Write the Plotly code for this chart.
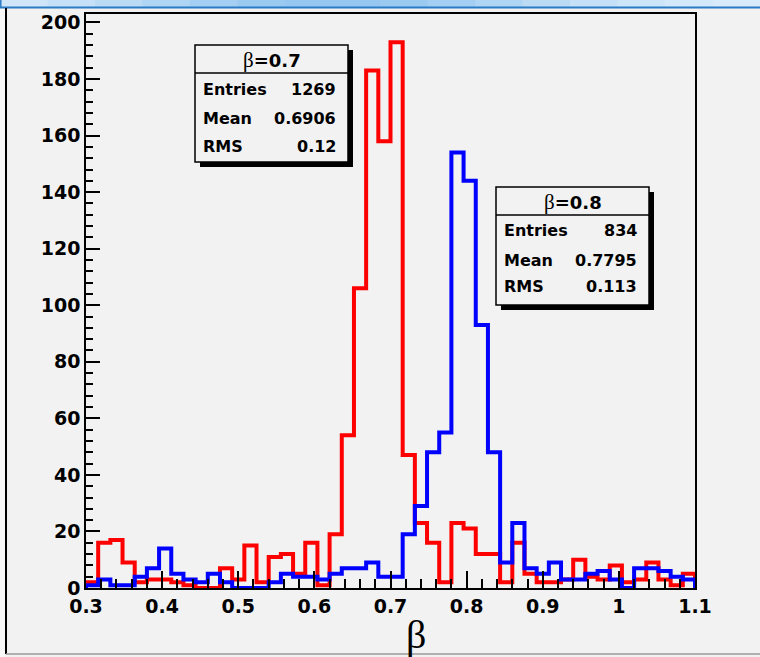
import plotly.graph_objects as go

# Histogram binning: 50 equal bins over [0.3, 1.1]
X_MIN, X_MAX, N_BINS = 0.3, 1.1, 50
Y_MAX = 203

# Bin contents for the beta = 0.7 sample
counts_b07 = [2, 16, 17, 9, 2, 3, 3, 2, 1, 0,
              0, 7, 3, 15, 2, 11, 12, 5, 16, 1,
              19, 54, 106, 183, 158, 193, 47, 23, 16, 2,
              23, 21, 12, 12, 2, 16, 5, 2, 2, 3,
              10, 4, 3, 8, 2, 3, 9, 3, 1, 5]

# Bin contents for the beta = 0.8 sample
counts_b08 = [1, 3, 1, 1, 4, 7, 14, 5, 3, 2,
              5, 2, 0, 0, 0, 2, 5, 4, 4, 3,
              5, 7, 7, 9, 4, 4, 19, 29, 48, 55,
              154, 144, 93, 48, 9, 23, 7, 5, 9, 3,
              3, 5, 6, 3, 0, 7, 7, 6, 4, 3]

stat_names = ["Entries", "Mean", "RMS"]
stats_b07 = ["1269", "0.6906", "0.12"]
stats_b08 = ["834", "0.7795", "0.113"]
titles = ["0.7", "0.8"]

W, H = 760, 657
BG = "#f2f2f2"


def px(x):
    return x / W


def py(y):
    return 1 - y / H


def step_outline(counts):
    width = (X_MAX - X_MIN) / N_BINS
    edges = [X_MIN + i * width for i in range(N_BINS + 1)]
    xs = [edges[0]] + edges[:-1] + [edges[-1]]
    ys = [0] + list(counts) + [0]
    return xs, ys


fig = go.Figure()
for counts, color in ((counts_b07, "#ff0000"), (counts_b08, "#0000ff")):
    xs, ys = step_outline(counts)
    fig.add_trace(go.Scatter(x=xs, y=ys, mode="lines", line_shape="hv",
                             line=dict(color=color, width=4),
                             hoverinfo="skip", showlegend=False))

tick_font = dict(family="DejaVu Sans", size=19, color="black", weight="bold")

fig.update_layout(
    width=W, height=H,
    margin=dict(l=0, r=0, t=0, b=0, autoexpand=False),
    paper_bgcolor=BG, plot_bgcolor=BG,
    showlegend=False,
    xaxis=dict(domain=[px(86), px(695)], range=[X_MIN, X_MAX], automargin=False,
               tick0=0.3, dtick=0.1, ticks="inside", ticklen=17,
               tickwidth=1.5, tickcolor="black",
               minor=dict(dtick=0.02, ticks="inside", ticklen=9,
                          tickwidth=1.5, tickcolor="black"),
               showline=True, mirror=True, linecolor="black", linewidth=1.5,
               showgrid=False, zeroline=False, tickfont=tick_font),
    yaxis=dict(domain=[py(588), py(14)], range=[0, Y_MAX], automargin=False,
               tick0=0, dtick=20, ticks="inside", ticklen=14,
               tickwidth=1.5, tickcolor="black",
               minor=dict(dtick=4, ticks="inside", ticklen=7,
                          tickwidth=1.5, tickcolor="black"),
               showline=True, mirror=True, linecolor="black", linewidth=1.5,
               showgrid=False, zeroline=False, tickfont=tick_font),
)

shapes = []
annotations = []

# window title strip with a horizontal blue gradient
strip_cols = ["#d0e6f8", "#c6e1f7", "#bbdbf5", "#afd5f4", "#a4cff2", "#9bcaf1",
              "#96c7f0", "#96c7f0", "#9bcaf1", "#a4cff2", "#afd5f4", "#bbdbf5",
              "#c6e1f7", "#cde5f8", "#d3e8f9", "#d8ebfa"]
n = len(strip_cols)
for i, c in enumerate(strip_cols):
    shapes.append(dict(type="rect", xref="paper", yref="paper",
                       x0=px(W * i / n), x1=px(W * (i + 1) / n) + 0.001,
                       y0=py(7), y1=py(0), fillcolor=c, line_width=0))
shapes.append(dict(type="line", xref="paper", yref="paper",
                   x0=0, x1=1, y0=py(7.5), y1=py(7.5),
                   line=dict(color="#2a7bc4", width=2)))
shapes.append(dict(type="line", xref="paper", yref="paper",
                   x0=px(0.8), x1=px(0.8), y0=py(0), y1=py(8),
                   line=dict(color="#2a7bc4", width=1.5)))
# canvas border
shapes.append(dict(type="rect", xref="paper", yref="paper",
                   x0=0, x1=px(5), y0=py(H), y1=py(8),
                   fillcolor="#f8f8f8", line_width=0, layer="below"))
shapes.append(dict(type="line", xref="paper", yref="paper",
                   x0=px(6), x1=px(6), y0=py(654), y1=py(8),
                   line=dict(color="black", width=2)))
shapes.append(dict(type="line", xref="paper", yref="paper",
                   x0=px(6), x1=1, y0=py(654), y1=py(654),
                   line=dict(color="#9a9a9a", width=1.5)))

# statistics boxes: (left, top, right, bottom, header line)
boxes = [(195, 45, 348, 162, 73), (496, 187, 649, 305, 215)]
row_y = [(89, 118, 146), (231, 260, 287)]
for (x0, y0, x1, y1, yh), title, vals, rows in zip(boxes, titles,
                                                   (stats_b07, stats_b08), row_y):
    shapes.append(dict(type="rect", xref="paper", yref="paper",
                       x0=px(x0 + 5), x1=px(x1 + 5), y0=py(y1 + 5), y1=py(y0 + 5),
                       fillcolor="black", line_width=0))
    shapes.append(dict(type="rect", xref="paper", yref="paper",
                       x0=px(x0), x1=px(x1), y0=py(y1), y1=py(y0),
                       fillcolor=BG, line=dict(color="black", width=1.5)))
    shapes.append(dict(type="line", xref="paper", yref="paper",
                       x0=px(x0), x1=px(x1), y0=py(yh), y1=py(yh),
                       line=dict(color="black", width=1.5)))
    annotations.append(dict(
        xref="paper", yref="paper", x=px((x0 + x1) / 2), y=py((y0 + yh) / 2 + 1),
        xanchor="center", yanchor="middle", showarrow=False,
        text=("<span style=\"font-family:'Liberation Serif';font-weight:normal;"
              "font-size:21px\">β</span>=" + title),
        font=dict(family="DejaVu Sans", size=18, color="black", weight="bold")))
    for name, val, yy in zip(stat_names, vals, rows):
        annotations.append(dict(
            xref="paper", yref="paper", x=px(x0 + 6), y=py(yy),
            xanchor="left", yanchor="middle", showarrow=False, text=name,
            font=dict(family="DejaVu Sans", size=16, color="black", weight="bold")))
        annotations.append(dict(
            xref="paper", yref="paper", x=px(x1 - 10), y=py(yy),
            xanchor="right", yanchor="middle", showarrow=False, text=val,
            font=dict(family="DejaVu Sans", size=16, color="black", weight="bold")))

# x-axis title
annotations.append(dict(
    xref="paper", yref="paper", x=px(416), y=py(634),
    xanchor="center", yanchor="middle", showarrow=False, text="β",
    font=dict(family="Liberation Serif", size=40, color="black")))

fig.update_layout(shapes=shapes, annotations=annotations)
fig.write_html("out.html")
